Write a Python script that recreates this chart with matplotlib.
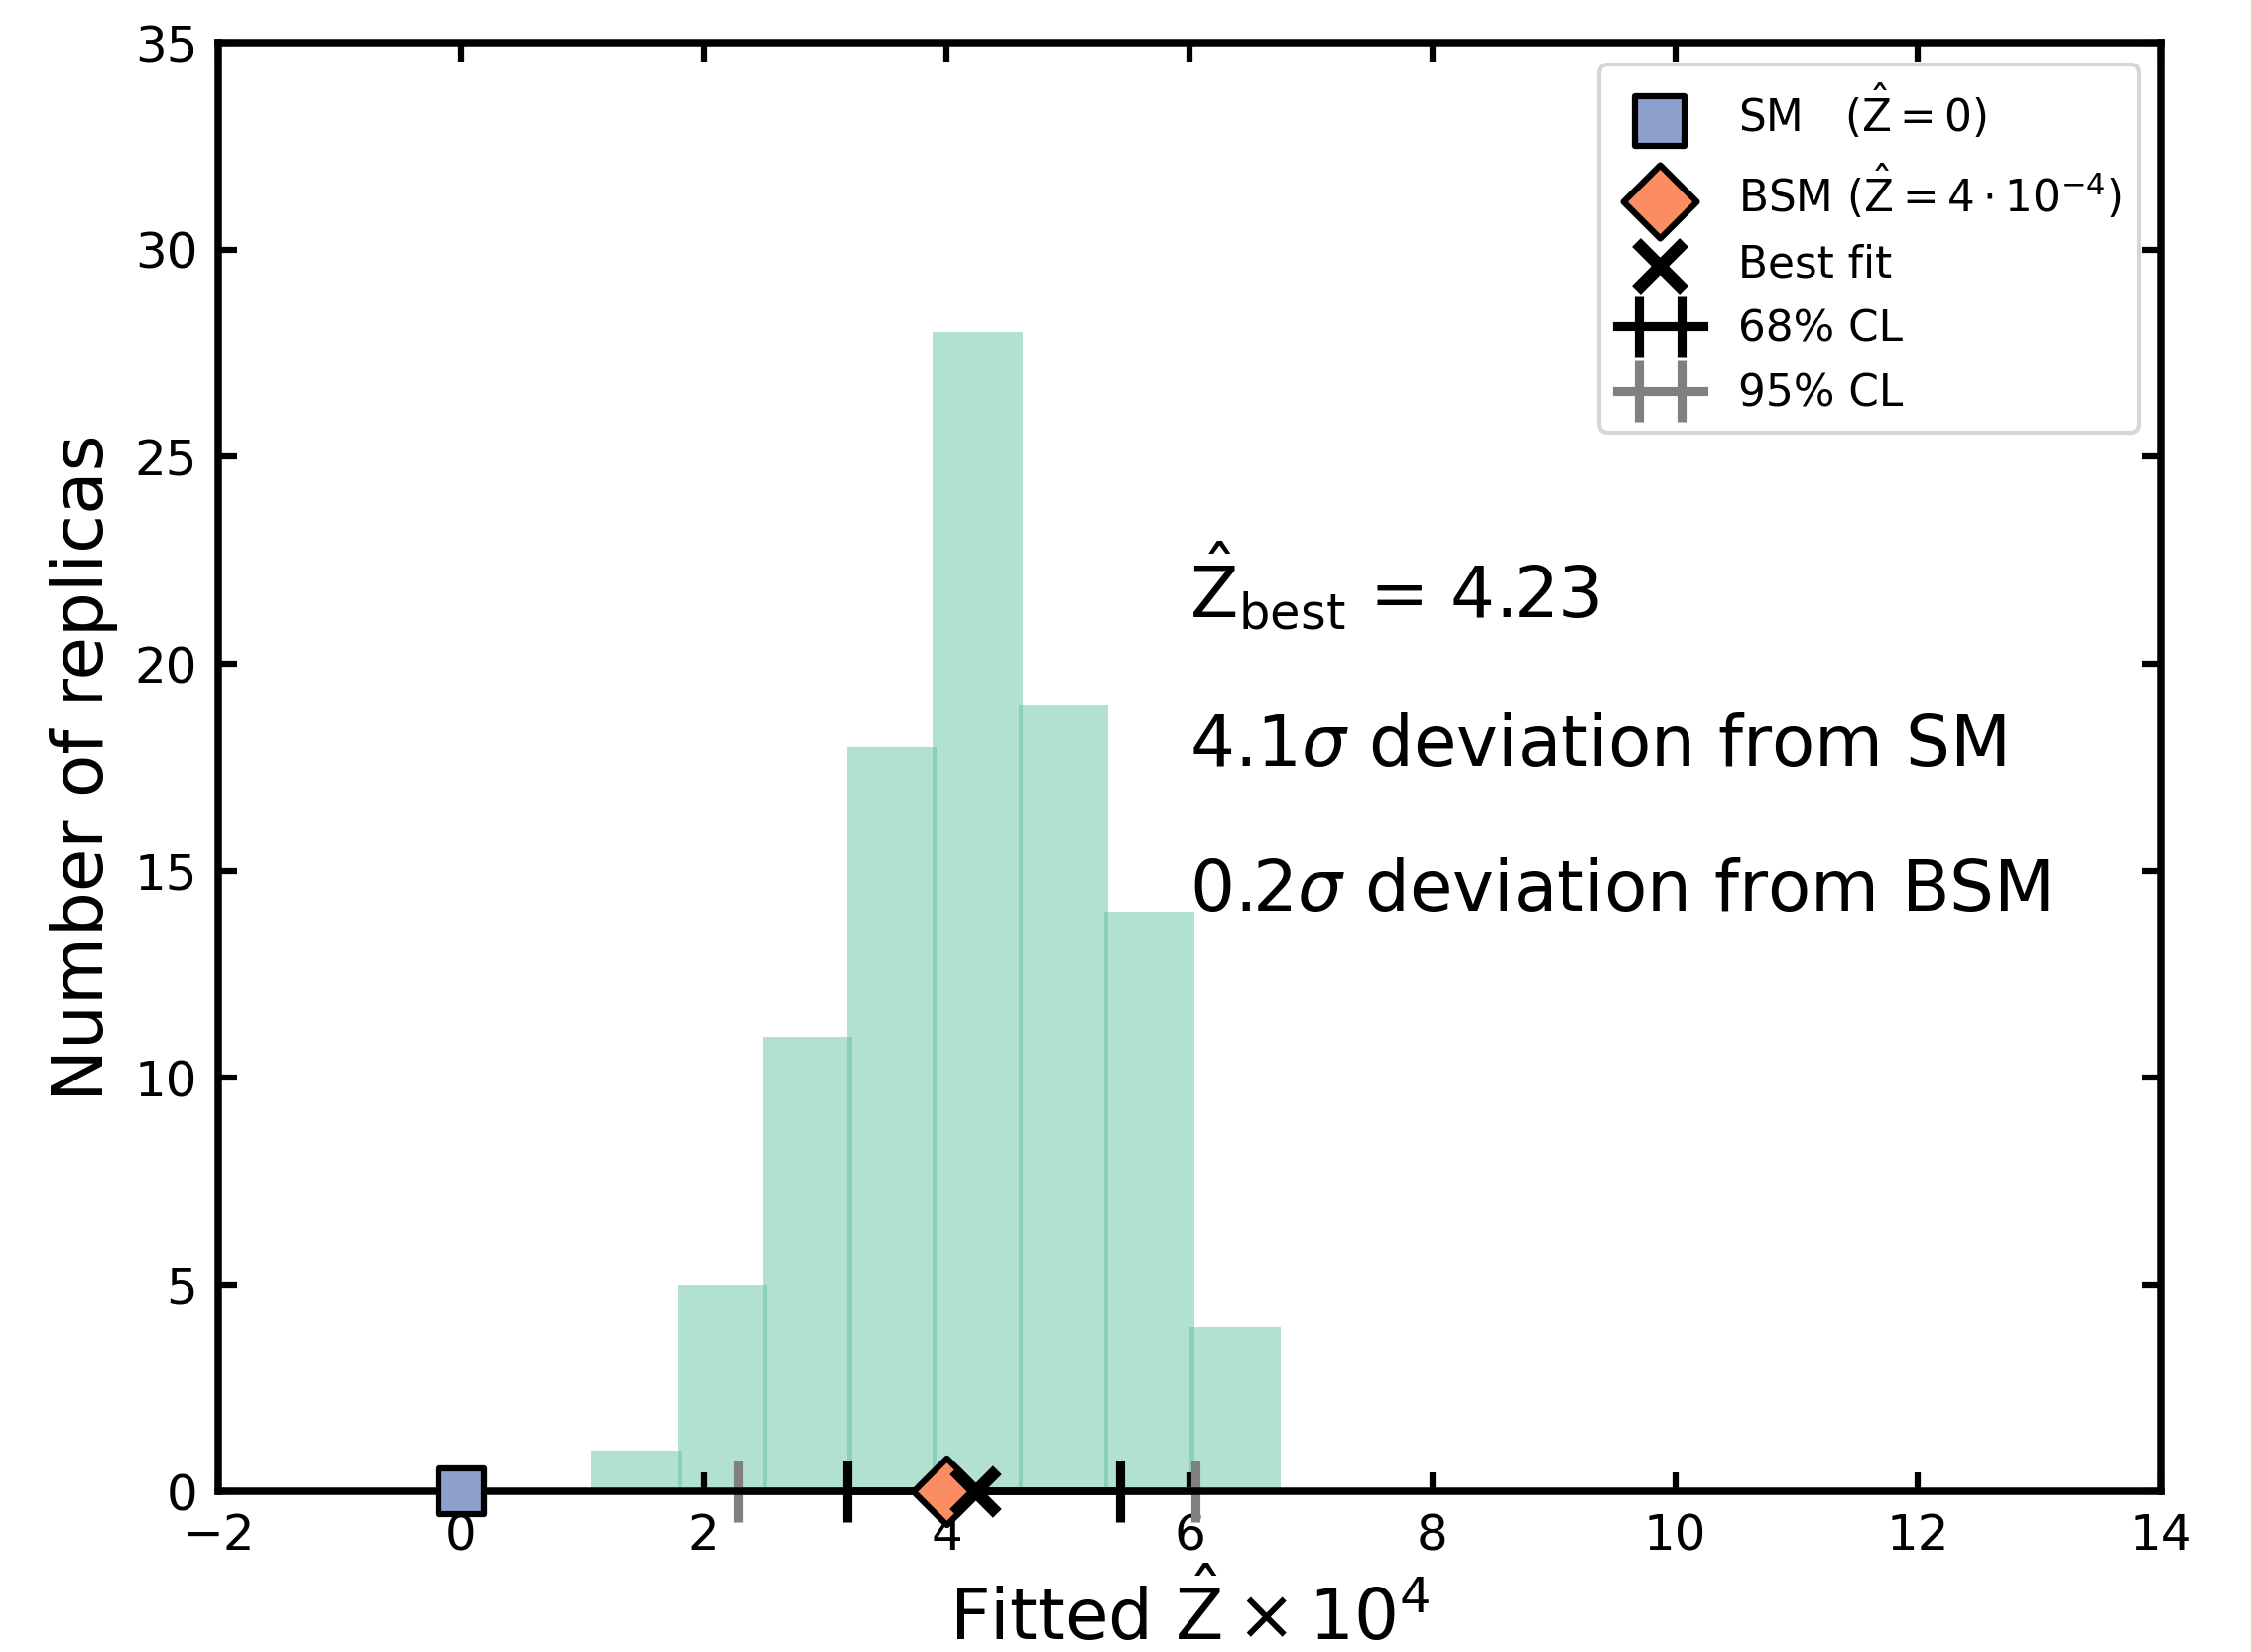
import matplotlib
matplotlib.use("Agg")
import matplotlib.pyplot as plt

# Histogram of fitted Z (x 1e4) over 100 replicas
bin_edges = [1.09, 1.80, 2.50, 3.20, 3.90, 4.61, 5.31, 6.02, 6.73]
counts = [1, 5, 11, 18, 28, 19, 14, 4]

sm_value = 0.0
bsm_value = 4.0
best_fit = 4.23
cl68 = [3.18, 5.43]
cl95 = [2.28, 6.05]

xticks = [-2, 0, 2, 4, 6, 8, 10, 12, 14]
yticks = [0, 5, 10, 15, 20, 25, 30, 35]

plt.rcParams['font.family'] = ['DejaVu Sans']
plt.rcParams['mathtext.fontset'] = 'dejavusans'

fig = plt.figure(figsize=(2269 / 300, 1665 / 300), dpi=300)
ax = fig.add_axes([0.097, 0.097, 0.863, 0.877])

overlap = 0.035
centers = [(bin_edges[i] + bin_edges[i + 1]) / 2 for i in range(len(counts))]
widths = [bin_edges[i + 1] - bin_edges[i] + overlap for i in range(len(counts))]
ax.bar(centers, counts, width=widths, align='center', color='#66c2a5',
       alpha=0.5, edgecolor='none', linewidth=0, zorder=1)

sm = ax.scatter([sm_value], [0], marker='s', s=120, color='#8da0cb',
                edgecolor='black', linewidth=1.5, zorder=10, clip_on=False)
bsm = ax.scatter([bsm_value], [0], marker='D', s=130, color='#fc8d62',
                 edgecolor='black', linewidth=1.5, zorder=10, clip_on=False)
bf = ax.scatter([best_fit], [0], marker='x', s=110, color='black',
                linewidth=3, zorder=11, clip_on=False)

e68 = ax.errorbar([best_fit], [0], xerr=[[best_fit - cl68[0]], [cl68[1] - best_fit]],
                  fmt='-', color='black', lw=2.2, elinewidth=1.8, capsize=7.5,
                  capthick=2.2, zorder=2.2, clip_on=False)
e95 = ax.errorbar([best_fit], [0], xerr=[[best_fit - cl95[0]], [cl95[1] - best_fit]],
                  fmt='-', color='grey', lw=2.2, elinewidth=1.8, capsize=7.5,
                  capthick=2.2, zorder=2.1, clip_on=False)
for art in (e68, e95):
    for ch in art.get_children():
        ch.set_clip_on(False)

ax.set_xlim(-2, 14)
ax.set_ylim(0, 35)
ax.set_xticks(xticks)
ax.set_yticks(yticks)
ax.tick_params(direction='in', top=True, right=True, length=4.5, width=1.5,
               labelsize=12, pad=5)
for s in ax.spines.values():
    s.set_linewidth(1.8)
    s.set_zorder(2.5)

ax.set_xlabel(r'Fitted $\hat{\mathrm{Z}}\times10^4$', fontsize=17, labelpad=3)
ax.set_ylabel('Number of replicas', fontsize=17, labelpad=4)

ax.text(0.5, 0.625, r'$\hat{\mathrm{Z}}_{\mathrm{best}}$ = 4.23', transform=ax.transAxes,
        fontsize=17, va='center', ha='left')
ax.text(0.5, 0.514, r'4.1$\sigma$ deviation from SM', transform=ax.transAxes,
        fontsize=17, va='center', ha='left')
ax.text(0.5, 0.414, r'0.2$\sigma$ deviation from BSM', transform=ax.transAxes,
        fontsize=17, va='center', ha='left')

leg = ax.legend([sm, bsm, bf, e68, e95],
                [r'SM   $(\hat{\mathrm{Z}}=0)$', r'BSM $(\hat{\mathrm{Z}}=4\cdot10^{-4})$',
                 'Best fit', '68% CL', '95% CL'],
                loc='upper right', fontsize=10.5, scatterpoints=1,
                handlelength=2.0, markerscale=1.1)
leg.get_frame().set_linewidth(1.0)

fig.savefig('out.png', dpi=300)
